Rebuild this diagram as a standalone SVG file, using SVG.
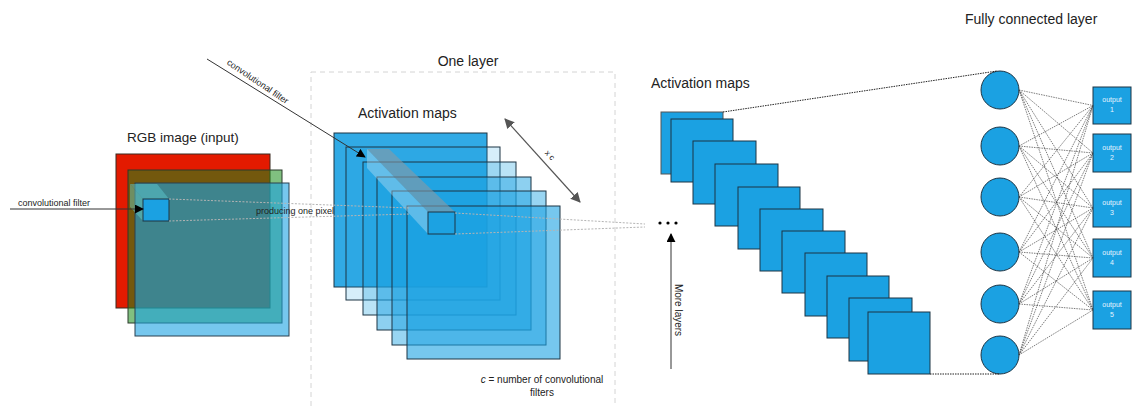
<svg xmlns="http://www.w3.org/2000/svg" width="1133" height="407" viewBox="0 0 1133 407">
  <defs>
    <marker id="tri" viewBox="0 0 10 10" refX="9" refY="5" markerWidth="9" markerHeight="9" markerUnits="userSpaceOnUse" orient="auto">
      <path d="M0,0 L10,5 L0,10 z" fill="#000"/>
    </marker>
    <marker id="triGray" viewBox="0 0 10 10" refX="9" refY="5" markerWidth="10" markerHeight="10" markerUnits="userSpaceOnUse" orient="auto-start-reverse">
      <path d="M0,0 L10,5 L0,10 z" fill="#555"/>
    </marker>
    <style>
      text { font-family: "Liberation Sans", Arial, sans-serif; fill: #222; }
      .title { font-size: 14px; }
      .small { font-size: 9px; }
      .map { fill: #1ba1e2; stroke: #1c3444; stroke-width: 1; }
      .pix { stroke: #b4b4b4; stroke-width: 1; stroke-dasharray: 2 1.5; fill: none; }
      .fc { stroke: #444; stroke-width: 0.7; stroke-dasharray: 1.5 1; fill: none; }
      .edge { stroke: #222; stroke-width: 1; stroke-dasharray: 1.5 1; fill: none; }
      .node { fill: #1ba1e2; stroke: #1c3444; stroke-width: 1; }
      .out { fill: #1ba1e2; stroke: #1c3444; stroke-width: 1; }
      .outtxt { font-size: 7px; fill: #e6f4ff; text-anchor: middle; }
    </style>
  </defs>

  <!-- input image: three colour channels -->
  <g id="rgb-image">
    <text class="title" x="127" y="142" style="font-size:13.5px">RGB image (input)</text>
    <rect x="116" y="154" width="154" height="154" fill="#e31a00" stroke="#3a2a20" stroke-width="1"/>
    <rect x="128" y="170" width="154" height="153" fill="rgb(24,140,24)" fill-opacity="0.55" stroke="#2a3a2a" stroke-width="1"/>
    <rect x="135" y="183" width="154" height="153" fill="#1ba1e2" fill-opacity="0.6" stroke="#2a4050" stroke-width="1"/>
    <!-- filter volume through the channels -->
    <polygon points="130,184 157,184 169,199 143,199" fill="#5cc8d0" fill-opacity="0.5"/>
    <polygon points="130,184 143,199 143,221 130,207" fill="#6ad0c8" fill-opacity="0.45"/>
    <rect x="143" y="199" width="26" height="22" fill="#1ba1e2" stroke="#1c3444" stroke-width="1"/>
  </g>

  <!-- one convolutional layer -->
  <g id="one-layer">
    <rect x="311" y="72" width="304" height="340" fill="none" stroke="#d4d4d4" stroke-width="1" stroke-dasharray="5 4"/>
    <text class="title" x="468" y="66" text-anchor="middle">One layer</text>
    <text class="title" x="358" y="118">Activation maps</text>
    <rect x="334" y="133" width="153" height="154" fill="#1ba1e2" fill-opacity="0.9" stroke="#1c3444"/>
    <rect x="346" y="147" width="154" height="153" fill="#1ba1e2" fill-opacity="0.18" stroke="#1c3444"/>
    <rect x="363" y="162" width="153" height="153" fill="#1ba1e2" fill-opacity="0.3" stroke="#1c3444"/>
    <rect x="377" y="177" width="154" height="153" fill="#1ba1e2" fill-opacity="0.5" stroke="#1c3444"/>
    <rect x="392" y="191" width="154" height="154" fill="#1ba1e2" fill-opacity="0.45" stroke="#1c3444"/>
    <rect x="407" y="206" width="153" height="153" fill="#1ba1e2" fill-opacity="0.6" stroke="#1c3444"/>
    <!-- filter volume through the stack -->
    <polygon points="367,149 389,149 455,212 428,212" fill="#8a9aa4" fill-opacity="0.6"/>
    <polygon points="367,149 428,212 428,234 367,168" fill="#d8ecf6" fill-opacity="0.35"/>
    <rect x="428" y="212" width="27" height="22" fill="none" stroke="#1c3444" stroke-width="1"/>
    <text x="542" y="383" text-anchor="middle" style="font-size:10px"><tspan font-style="italic">c</tspan> = number of convolutional</text>
    <text x="542" y="396" text-anchor="middle" style="font-size:10px">filters</text>
  </g>

  <!-- deeper activation maps -->
  <g id="activation-maps">
    <text class="title" x="651" y="88">Activation maps</text>
    <rect class="map" x="661" y="112" width="62" height="62" style="stroke:#555"/>
    <rect class="map" x="671" y="119" width="62" height="63"/>
    <rect class="map" x="693" y="141" width="63" height="63"/>
    <rect class="map" x="715" y="164" width="63" height="62"/>
    <rect class="map" x="738" y="187" width="62" height="62"/>
    <rect class="map" x="760" y="209" width="63" height="62"/>
    <rect class="map" x="782" y="231" width="63" height="62"/>
    <rect class="map" x="805" y="253" width="62" height="63"/>
    <rect class="map" x="827" y="276" width="62" height="62"/>
    <rect class="map" x="849" y="298" width="63" height="63"/>
    <rect class="map" x="868" y="312" width="62" height="62"/>
    <circle cx="660" cy="223" r="1.6" fill="#000"/>
    <circle cx="668" cy="223" r="1.6" fill="#000"/>
    <circle cx="676" cy="223" r="1.6" fill="#000"/>
  </g>

  <!-- fully connected neurons -->
  <g id="fc-layer">
    <text class="title" x="965" y="24">Fully connected layer</text>
    <circle class="node" cx="1000" cy="90" r="19"/>
    <circle class="node" cx="1000" cy="146" r="19"/>
    <circle class="node" cx="1000" cy="197" r="19"/>
    <circle class="node" cx="1000" cy="252" r="19"/>
    <circle class="node" cx="1000" cy="304" r="19"/>
    <circle class="node" cx="1000" cy="355" r="19"/>
  </g>

  <!-- outputs -->
  <g id="output-1">
    <rect class="out" x="1093" y="87" width="38" height="37"/>
    <text class="outtxt" x="1112" y="102">output</text>
    <text class="outtxt" x="1112" y="112">1</text>
  </g>
  <g id="output-2">
    <rect class="out" x="1093" y="134" width="38" height="38"/>
    <text class="outtxt" x="1112" y="150">output</text>
    <text class="outtxt" x="1112" y="160">2</text>
  </g>
  <g id="output-3">
    <rect class="out" x="1093" y="189" width="38" height="38"/>
    <text class="outtxt" x="1112" y="205">output</text>
    <text class="outtxt" x="1112" y="215">3</text>
  </g>
  <g id="output-4">
    <rect class="out" x="1093" y="239" width="38" height="38"/>
    <text class="outtxt" x="1112" y="255">output</text>
    <text class="outtxt" x="1112" y="265">4</text>
  </g>
  <g id="output-5">
    <rect class="out" x="1093" y="291" width="38" height="38"/>
    <text class="outtxt" x="1112" y="307">output</text>
    <text class="outtxt" x="1112" y="317">5</text>
  </g>

  <!-- connectors -->
  <g id="connectors">
    <!-- filter arrow into the input -->
    <line x1="10" y1="209" x2="143" y2="209" stroke="#333" stroke-width="1" marker-end="url(#tri)"/>
    <text class="small" x="18" y="206">convolutional filter</text>
    <!-- filter arrow into the layer -->
    <line x1="207" y1="59" x2="365" y2="157" stroke="#333" stroke-width="1" marker-end="url(#tri)"/>
    <text class="small" transform="translate(256,84) rotate(34)" text-anchor="middle">convolutional filter</text>
    <!-- receptive field to output pixel -->
    <line class="pix" x1="169" y1="199" x2="410" y2="208"/>
    <line class="pix" x1="169" y1="221" x2="410" y2="214"/>
    <text class="small" x="256" y="214">producing one pixel</text>
    <line class="pix" x1="455" y1="213" x2="645" y2="224"/>
    <line class="pix" x1="455" y1="234" x2="645" y2="227"/>
    <!-- depth of the stack -->
    <line x1="505" y1="119" x2="580" y2="202" stroke="#555" stroke-width="1.2" marker-start="url(#triGray)" marker-end="url(#triGray)"/>
    <text transform="translate(548,157) rotate(48)" text-anchor="middle" style="font-size:8px">x c</text>
    <!-- more layers -->
    <line x1="671" y1="369" x2="671" y2="234" stroke="#333" stroke-width="1" marker-end="url(#tri)"/>
    <text transform="translate(675,310) rotate(90)" text-anchor="middle" style="font-size:10px">More layers</text>
    <!-- maps into the dense layer -->
    <line class="edge" x1="723" y1="112" x2="997" y2="71"/>
    <line class="edge" x1="930" y1="374" x2="1000" y2="374"/>
    <!-- dense connections -->
    <g class="fc">
      <path d="M1019,90 L1093,105.5 M1019,90 L1093,153 M1019,90 L1093,208 M1019,90 L1093,258 M1019,90 L1093,310"/>
      <path d="M1019,146 L1093,105.5 M1019,146 L1093,153 M1019,146 L1093,208 M1019,146 L1093,258 M1019,146 L1093,310"/>
      <path d="M1019,197 L1093,105.5 M1019,197 L1093,153 M1019,197 L1093,208 M1019,197 L1093,258 M1019,197 L1093,310"/>
      <path d="M1019,252 L1093,105.5 M1019,252 L1093,153 M1019,252 L1093,208 M1019,252 L1093,258 M1019,252 L1093,310"/>
      <path d="M1019,304 L1093,105.5 M1019,304 L1093,153 M1019,304 L1093,208 M1019,304 L1093,258 M1019,304 L1093,310"/>
      <path d="M1019,355 L1093,105.5 M1019,355 L1093,153 M1019,355 L1093,208 M1019,355 L1093,258 M1019,355 L1093,310"/>
    </g>
  </g>
</svg>
